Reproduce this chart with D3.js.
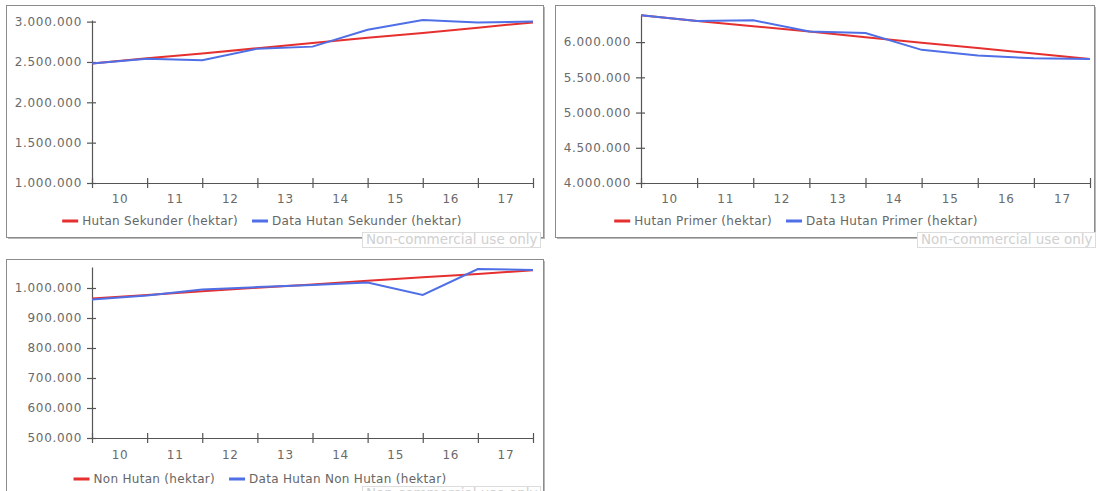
<!DOCTYPE html>
<html>
<head>
<meta charset="utf-8">
<script src="https://cdn.jsdelivr.net/npm/d3@7"></script>
<style>
  body { margin: 0; background: #fff; }
  svg { display: block; font-family: "DejaVu Sans", Verdana, sans-serif; }
</style>
</head>
<body>
<svg id="chart" width="1097" height="491"></svg>
<script>
// x labels sit between the 9 measurement points
const years = ['10', '11', '12', '13', '14', '15', '16', '17']

const sekunderTrend = [2480000, 2545000, 2605000, 2670000, 2735000, 2800000, 2860000, 2925000, 2990000]
const sekunderData  = [2480000, 2540000, 2520000, 2665000, 2690000, 2900000, 3020000, 2990000, 3000000]
const sekunderTicks = [1000000, 1500000, 2000000, 2500000, 3000000]

const primerTrend = [6380000, 6300000, 6225000, 6150000, 6070000, 5990000, 5915000, 5840000, 5760000]
const primerData  = [6380000, 6300000, 6310000, 6150000, 6130000, 5890000, 5810000, 5770000, 5760000]
const primerTicks = [4000000, 4500000, 5000000, 5500000, 6000000]

const nonTrend = [965000, 977000, 989000, 1001000, 1012000, 1024000, 1036000, 1047000, 1059000]
const nonData  = [962000, 975000, 995000, 1003000, 1010000, 1018000, 977000, 1063000, 1060000]
const nonTicks = [500000, 600000, 700000, 800000, 900000, 1000000]

const RED = '#e5302f'
const BLUE = '#4f6fe6'

const fmt = d3.formatLocale({decimal: ',', thousands: '.', grouping: [3], currency: ['', '']}).format(',d')

const panels = [
  {
    box: {x: 6, y: 5, w: 537, h: 232},
    plot: {left: 92, right: 533, bottom: 183, top: 20},
    yDomain: [1000000, 3020000],
    ticks: sekunderTicks,
    trend: sekunderTrend,
    data: sekunderData,
    names: ['Hutan Sekunder (hektar)', 'Data Hutan Sekunder (hektar)'],
    legendCx: 262, labelY: 199, legendY: 221,
    mark: {x: 362, y: 232}
  },
  {
    box: {x: 555, y: 5, w: 539, h: 232},
    plot: {left: 641, right: 1090, bottom: 183, top: 15},
    yDomain: [4000000, 6385000],
    ticks: primerTicks,
    trend: primerTrend,
    data: primerData,
    names: ['Hutan Primer (hektar)', 'Data Hutan Primer (hektar)'],
    legendCx: 796, labelY: 199, legendY: 221,
    mark: {x: 917, y: 232}
  },
  {
    box: {x: 6, y: 259, w: 537, h: 232},
    plot: {left: 92, right: 533, bottom: 438, top: 267},
    yDomain: [500000, 1070000],
    ticks: nonTicks,
    trend: nonTrend,
    data: nonData,
    names: ['Non Hutan (hektar)', 'Data Hutan Non Hutan (hektar)'],
    legendCx: 260, labelY: 455, legendY: 479,
    mark: {x: 362, y: 486}
  }
]

const svg = d3.select('#chart')

panels.forEach(p => {
  const g = svg.append('g')

  // frame with a soft shadow on the bottom/right
  g.append('rect')
    .attr('x', p.box.x + 2).attr('y', p.box.y + 2)
    .attr('width', p.box.w).attr('height', p.box.h)
    .attr('fill', '#b8b8b8')
  g.append('rect')
    .attr('x', p.box.x + 0.5).attr('y', p.box.y + 0.5)
    .attr('width', p.box.w).attr('height', p.box.h)
    .attr('fill', '#fff')
    .attr('stroke', '#8c8c8c')

  const x = d3.scaleLinear()
    .domain([0, years.length])
    .range([p.plot.left, p.plot.right])

  const y = d3.scaleLinear()
    .domain(p.yDomain)
    .range([p.plot.bottom, p.plot.top])

  // y axis
  const yAxis = g.append('g')
    .attr('transform', `translate(${p.plot.left},0)`)
    .call(d3.axisLeft(y).tickValues(p.ticks).tickFormat(fmt).tickSizeOuter(0).tickPadding(4))
  yAxis.selectAll('.tick line').attr('x1', 4).attr('x2', -5)

  // x axis: crosses at the point boundaries, labels in between
  const xAxis = g.append('g')
    .attr('transform', `translate(0,${p.plot.bottom})`)
    .call(d3.axisBottom(x).tickValues(d3.range(years.length + 1)).tickFormat('').tickSizeOuter(0))
  xAxis.selectAll('.tick line').attr('y1', -5).attr('y2', 5)

  const xLabels = g.append('g')
    .attr('transform', `translate(0,${p.plot.bottom})`)
    .call(d3.axisBottom(x).tickValues(years.map((d, i) => i + 0.5)).tickFormat((d, i) => years[i]).tickSize(0).tickPadding(p.labelY - p.plot.bottom - 5))
  xLabels.select('.domain').remove()

  ;[yAxis, xAxis, xLabels].forEach(a => {
    a.selectAll('.domain').attr('stroke', '#555').attr('stroke-width', 1.2)
    a.selectAll('.tick line').attr('stroke', '#555').attr('stroke-width', 1.2)
    a.selectAll('text')
      .attr('fill', '#6a6a6a')
      .style('font-size', '12px')
      .style('letter-spacing', '0.7px')
      .style('font-family', '"DejaVu Sans", Verdana, sans-serif')
  })

  const line = d3.line()
    .x((d, i) => x(i))
    .y(d => y(d))

  g.append('path')
    .datum(p.trend)
    .attr('fill', 'none')
    .attr('stroke', RED)
    .attr('stroke-width', 2)
    .attr('d', line)

  g.append('path')
    .datum(p.data)
    .attr('fill', 'none')
    .attr('stroke', BLUE)
    .attr('stroke-width', 2)
    .attr('d', line)

  // legend, centred
  const legend = g.append('g')
  let cx = 0
  const colors = [RED, BLUE]
  p.names.forEach((name, i) => {
    legend.append('rect')
      .attr('x', cx).attr('y', -1.5)
      .attr('width', 16).attr('height', 3)
      .attr('fill', colors[i])
    const t = legend.append('text')
      .attr('x', cx + 20).attr('y', 4)
      .attr('fill', '#666')
      .style('font-size', '12px')
      .style('letter-spacing', '0.3px')
      .text(name)
    cx += 20 + t.node().getComputedTextLength() + 14
  })
  const legendW = cx - 14
  legend.attr('transform', `translate(${p.legendCx - legendW / 2},${p.legendY})`)

  // watermark
  const mark = g.append('g').attr('transform', `translate(${p.mark.x},${p.mark.y})`)
  mark.append('rect')
    .attr('x', 0.5).attr('y', 0.5)
    .attr('width', 178).attr('height', 15)
    .attr('fill', '#fff')
    .attr('stroke', '#dcdcdc')
  mark.append('text')
    .attr('x', 4).attr('y', 12)
    .attr('fill', '#d0d0d0')
    .style('font-size', '13.5px')
    .text('Non-commercial use only')
})
</script>
</body>
</html>
